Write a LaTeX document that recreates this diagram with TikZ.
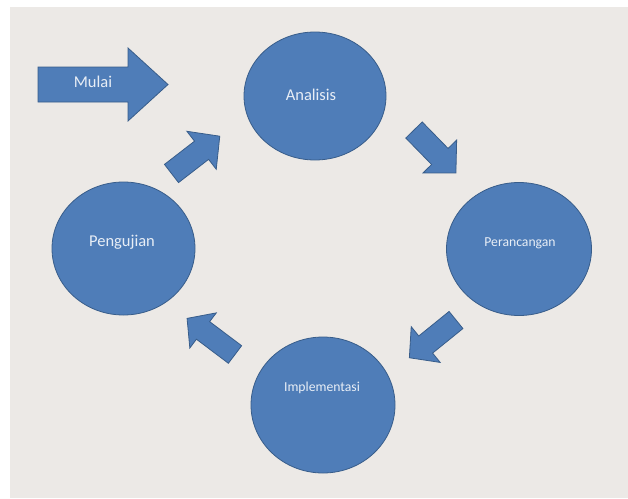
\documentclass[tikz,border=0pt]{standalone}
\usepackage{fontspec}
\setmainfont{Carlito}
\definecolor{pagebg}{HTML}{ECE9E6}
\definecolor{shapefill}{HTML}{4F7DB8}
\definecolor{shapeline}{HTML}{385D8A}
\definecolor{labeltext}{HTML}{E8EEF6}
\tikzset{
  stage/.style={ellipse, fill=shapefill, draw=shapeline, line width=0.8pt,
    inner sep=0pt},
  arrowfill/.style={fill=shapefill, draw=shapeline, line width=0.8pt, line join=miter},
  biglabel/.style={text=labeltext, font=\fontsize{16.5}{18}\selectfont},
  smalllabel/.style={text=labeltext, font=\fontsize{13.7}{16}\selectfont},
  % block arrow along +x: {body half width}{head half width}{body length}{total length}
  pics/blkarrow/.style n args={4}{code={
    \path[arrowfill] (0,-#1) -- (#3,-#1) -- (#3,-#2) -- (#4,0) -- (#3,#2)
      -- (#3,#1) -- (0,#1) -- cycle;
  }}
}
\usetikzlibrary{shapes.geometric}
\begin{document}
\begin{tikzpicture}[x=1pt, y=-1pt]
  % canvas and grey panel
  \fill[white] (0,0) rectangle (628,498);
  \fill[pagebg] (10,7) rectangle (628,498);
  \useasboundingbox (0,0) rectangle (628,498);

  % the four stages
  \node[stage, minimum width=142pt, minimum height=128pt] (analisis) at (315,96) {};
  \node[stage, minimum width=145pt, minimum height=133pt] (perancangan) at (519,249) {};
  \node[stage, minimum width=144pt, minimum height=136pt] (implementasi) at (323,405) {};
  \node[stage, minimum width=143pt, minimum height=133pt] (pengujian) at (123.5,248.5) {};

  \node[biglabel] (tanalisis) at (311,95) {Analisis};
  \node[smalllabel] (tperancangan) at (520,243) {Perancangan};
  \node[smalllabel] (timplementasi) at (322,388) {Implementasi};
  \node[biglabel] (tpengujian) at (122,242) {Pengujian};

  % start arrow
  \pic at (38,84.5) {blkarrow={17.5}{36.5}{90}{130}};
  \node[biglabel] (mulai) at (93,82) {Mulai};

  % cycle arrows between the stages
  \pic[rotate=37.7] at (171.5,173.5) {blkarrow={11.5}{24}{38}{61}};
  \pic[rotate=-45.7] at (414,130) {blkarrow={11.5}{23.5}{37}{60}};
  \pic[rotate=219] at (456,320) {blkarrow={11}{23}{39}{60}};
  \pic[rotate=143] at (235,354.5) {blkarrow={11}{22}{40}{60}};
\end{tikzpicture}
\end{document}
